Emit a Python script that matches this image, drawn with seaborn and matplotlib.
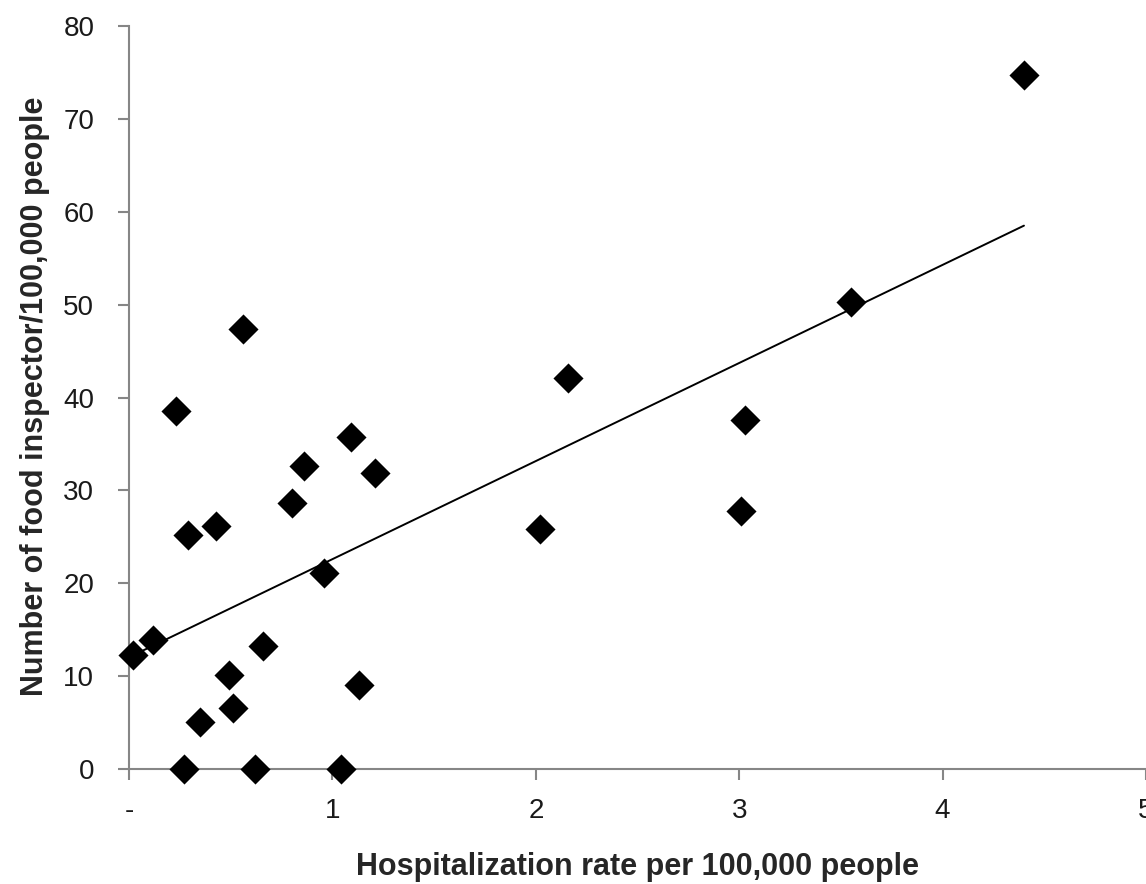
import numpy as np
import pandas as pd
import seaborn as sns
import matplotlib.pyplot as plt

# hospitalization rate vs food inspectors
hosp_rate = [0.02, 0.12, 0.23, 0.27, 0.29, 0.35, 0.43, 0.49, 0.51, 0.56, 0.62, 0.66,
             0.80, 0.86, 0.96, 1.04, 1.09, 1.13, 1.21, 2.02, 2.16, 3.01, 3.03, 3.55, 4.40]
inspectors = [12.3, 13.9, 38.5, 0.0, 25.2, 5.1, 26.2, 10.1, 6.6, 47.4, 0.0, 13.3,
              28.6, 32.6, 21.1, 0.0, 35.7, 9.0, 31.9, 25.8, 42.1, 27.8, 37.6, 50.3, 74.7]
x_ticks = [0, 1, 2, 3, 4, 5]
x_ticklabels = ['-', '1', '2', '3', '4', '5']
y_ticks = [0, 10, 20, 30, 40, 50, 60, 70, 80]

df = pd.DataFrame({'hosp': hosp_rate, 'insp': inspectors})

sns.set_style('white')
plt.rcParams['font.family'] = ['Liberation Sans', 'DejaVu Sans']

fig = plt.figure(figsize=(11.46, 8.84), dpi=100)
ax = fig.add_axes([0.1126, 0.130, 0.8874, 0.8406])

# scatter of diamonds + linear trend line (least squares fit)
sns.regplot(data=df, x='hosp', y='insp', ax=ax, ci=None, truncate=True, marker='D',
            scatter_kws={'s': 235, 'color': 'black', 'alpha': 1, 'linewidths': 0,
                         'zorder': 3, 'clip_on': False},
            line_kws={'color': 'black', 'linewidth': 1.4, 'zorder': 2})

ax.set_xlim(0, 5)
ax.set_ylim(0, 80)
ax.set_xticks(x_ticks)
ax.set_xticklabels(x_ticklabels)
ax.set_yticks(y_ticks)

for side in ['top', 'right']:
    ax.spines[side].set_visible(False)
for side in ['left', 'bottom']:
    ax.spines[side].set_color('#868686')
    ax.spines[side].set_linewidth(1.5)
ax.tick_params(axis='both', direction='out', length=8, width=1.5, color='#868686',
               labelsize=20, labelcolor='#1a1a1a', bottom=True, left=True)
ax.tick_params(axis='x', pad=13)
ax.tick_params(axis='y', pad=17)

ax.set_xlabel('Hospitalization rate per 100,000 people', fontsize=22, fontweight='bold')
ax.set_ylabel('Number of food inspector/100,000 people', fontsize=22, fontweight='bold')
ax.xaxis.set_label_coords(0.5, -0.112)
ax.yaxis.set_label_coords(-0.078, 0.502)

fig.savefig('out.png', dpi=100)
